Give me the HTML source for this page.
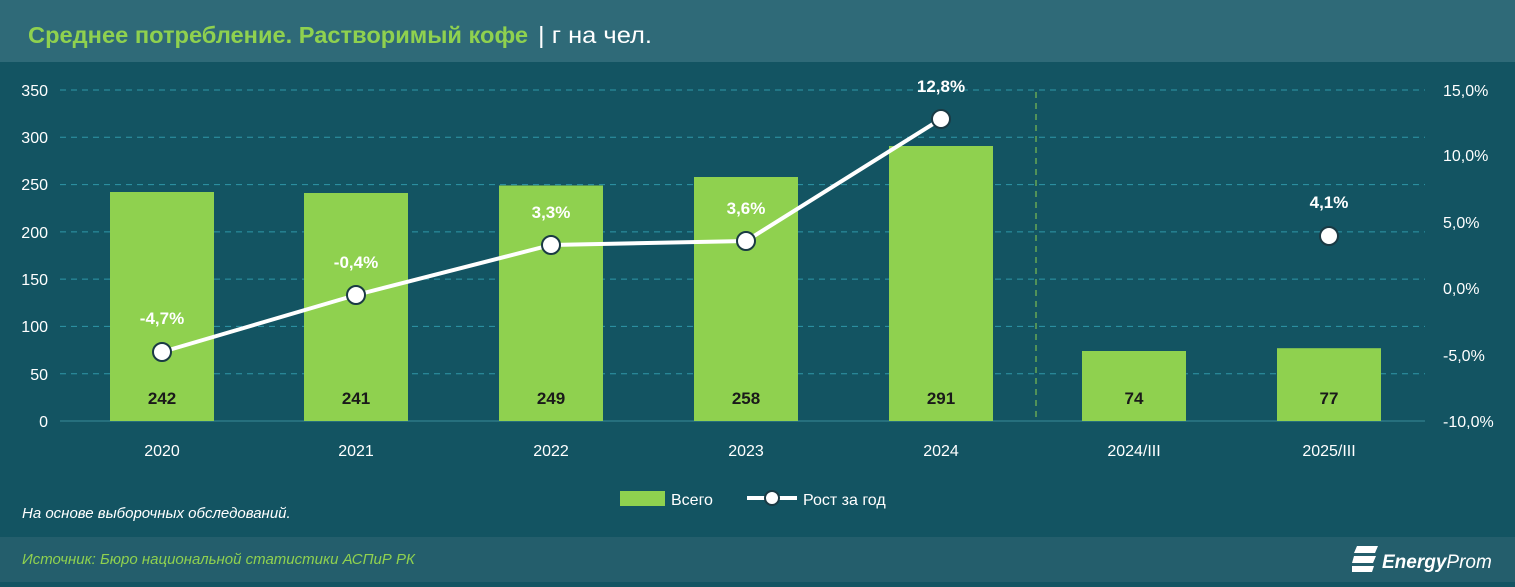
<!DOCTYPE html><html><head><meta charset="utf-8"><style>
body{margin:0;width:1515px;height:582px;overflow:hidden;background:#135462;font-family:"Liberation Sans",sans-serif}
</style></head><body>
<svg width="1515" height="582" xmlns="http://www.w3.org/2000/svg" font-family="Liberation Sans, sans-serif">
<rect width="1515" height="62" fill="#2f6a78"/>
<rect y="62" width="1515" height="475" fill="#135462"/>
<rect y="537" width="1515" height="45" fill="#245e6c"/>
<text x="28" y="43" font-size="23" font-weight="bold" fill="#8fd14f" textLength="500" lengthAdjust="spacingAndGlyphs">Среднее потребление. Растворимый кофе</text>
<text x="538" y="43" font-size="23" fill="#fff" textLength="114" lengthAdjust="spacingAndGlyphs">| г на чел.</text>
<g stroke="#2f97a8" stroke-width="1" stroke-dasharray="6,5">
<line x1="60" x2="1425" y1="90" y2="90"/><line x1="60" x2="1425" y1="137.3" y2="137.3"/><line x1="60" x2="1425" y1="184.6" y2="184.6"/><line x1="60" x2="1425" y1="231.9" y2="231.9"/><line x1="60" x2="1425" y1="279.1" y2="279.1"/><line x1="60" x2="1425" y1="326.4" y2="326.4"/><line x1="60" x2="1425" y1="373.7" y2="373.7"/>
</g>
<line x1="60" x2="1425" y1="421" y2="421" stroke="#3a8a98"/>
<line x1="1036" x2="1036" y1="92" y2="421" stroke="#8fd14f" stroke-dasharray="6,5"/>
<g fill="#fff" font-size="16" text-anchor="end">
<text x="48" y="96">350</text><text x="48" y="143">300</text><text x="48" y="190">250</text><text x="48" y="238">200</text><text x="48" y="285">150</text><text x="48" y="332">100</text><text x="48" y="380">50</text><text x="48" y="427">0</text>
</g>
<g fill="#fff" font-size="16">
<text x="1443" y="96">15,0%</text><text x="1443" y="161">10,0%</text><text x="1443" y="228">5,0%</text><text x="1443" y="294">0,0%</text><text x="1443" y="361">-5,0%</text><text x="1443" y="427">-10,0%</text>
</g>
<g fill="#8fd14f">
<rect x="110" y="192" width="104" height="229"/><rect x="304" y="193" width="104" height="228"/><rect x="499" y="185.5" width="104" height="235.5"/><rect x="694" y="177" width="104" height="244"/><rect x="889" y="146" width="104" height="275"/><rect x="1082" y="351" width="104" height="70"/><rect x="1277" y="348.2" width="104" height="72.8"/>
</g>
<g fill="#1a1a1a" font-size="17" font-weight="bold" text-anchor="middle">
<text x="162" y="404">242</text><text x="356" y="404">241</text><text x="551" y="404">249</text><text x="746" y="404">258</text><text x="941" y="404">291</text><text x="1134" y="404">74</text><text x="1329" y="404">77</text>
</g>
<g fill="#fff" font-size="16" text-anchor="middle">
<text x="162" y="456">2020</text><text x="356" y="456">2021</text><text x="551" y="456">2022</text><text x="746" y="456">2023</text><text x="941" y="456">2024</text><text x="1134" y="456">2024/III</text><text x="1329" y="456">2025/III</text>
</g>
<polyline points="162,352 356,295 551,245 746,241 941,119" fill="none" stroke="#fff" stroke-width="4"/>
<g stroke="#1a3a44" stroke-width="2">
<circle cx="162" cy="352" r="9" fill="#fff"/><circle cx="356" cy="295" r="9" fill="#fff"/><circle cx="551" cy="245" r="9" fill="#fff"/><circle cx="746" cy="241" r="9" fill="#fff"/><circle cx="941" cy="119" r="9" fill="#fff"/><circle cx="1329" cy="236" r="9" fill="#fff"/></g>
<g fill="#fff" font-size="17" font-weight="bold" text-anchor="middle">
<text x="162" y="324">-4,7%</text><text x="356" y="268">-0,4%</text><text x="551" y="218">3,3%</text><text x="746" y="214">3,6%</text><text x="941" y="92">12,8%</text><text x="1329" y="208">4,1%</text>
</g>
<rect x="620" y="491" width="45" height="15" fill="#8fd14f"/>
<text x="671" y="505" fill="#fff" font-size="16">Всего</text>
<line x1="747" x2="797" y1="498" y2="498" stroke="#fff" stroke-width="4"/>
<circle cx="772" cy="498" r="7" fill="#fff" stroke="#1a3a44" stroke-width="2"/>
<text x="803" y="505" fill="#fff" font-size="16">Рост за год</text>
<text x="22" y="518" fill="#fff" font-size="15" font-style="italic">На основе выборочных обследований.</text>
<text x="22" y="564" fill="#8fd14f" font-size="15" font-style="italic">Источник: Бюро национальной статистики АСПиР РК</text>
<g fill="#fff"><polygon points="1357,546 1378,546 1375,553 1354,553"/><polygon points="1354,556 1376,556 1373,563 1352,563"/><polygon points="1352,566 1374,566 1372,572 1352,572"/></g>
<text x="1382" y="568" fill="#fff" font-size="19" font-style="italic" font-weight="bold">Energy<tspan font-weight="normal">Prom</tspan></text>
</svg>
</body></html>
